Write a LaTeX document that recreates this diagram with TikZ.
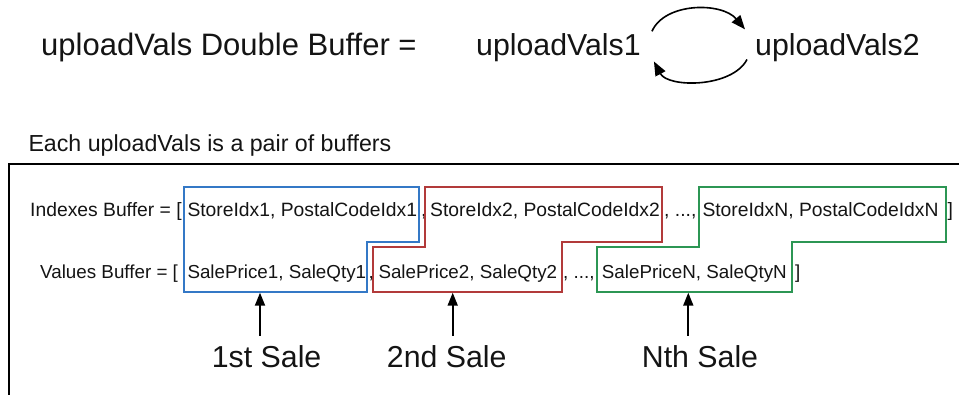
\documentclass[tikz,border=0pt]{standalone}
\usepackage{fontspec}
\setmainfont{Liberation Sans}
\usetikzlibrary{arrows.meta,calc}

\definecolor{saleblue}{RGB}{52,120,198}
\definecolor{salered}{RGB}{178,58,58}
\definecolor{salegreen}{RGB}{44,150,84}
\definecolor{ink}{RGB}{20,20,20}

\tikzset{
  titletext/.style={font=\fontsize{31}{37}\selectfont, inner sep=0pt, anchor=base west, text=ink},
  bigtext/.style={font=\fontsize{30.3}{36}\selectfont, inner sep=0pt, anchor=base west, text=ink},
  subtext/.style={font=\fontsize{23.2}{28}\selectfont, inner sep=0pt, anchor=base west, text=ink},
  rowtext/.style={font=\fontsize{19.3}{23}\selectfont, inner sep=0pt, anchor=base west, text=ink},
  valtext/.style={font=\fontsize{18.8}{23}\selectfont, inner sep=0pt, anchor=base west, text=ink},
  frame/.style={draw=black, line width=2pt},
  salebox/.style={line width=2pt, line join=miter},
  swap/.style={line width=1.6pt, -{Triangle[length=14pt,width=11pt]}},
  pointer/.style={line width=1.8pt, -{Triangle[length=13pt,width=10pt]}}
}

\begin{document}
\begin{tikzpicture}[x=1pt,y=-1pt]
\path[use as bounding box] (0,0) rectangle (959,395);

% double buffer header
\node[titletext] (title) at (41,56) {uploadVals Double Buffer =};
\node[bigtext] (v1) at (476,56) {uploadVals1};
\node[bigtext] (v2) at (755,56) {uploadVals2};

\draw[swap] ([shift={(11,-2.5)}]v1.north east)
  .. controls (665,2) and (722,2) .. ([shift={(-10,-4.5)}]v2.north west);
\draw[swap] ([shift={(-8,-3)}]v2.south west)
  .. controls (732,88) and (668,88) .. ([shift={(13,-1)}]v1.south east);

% caption and frame
\node[subtext] (caption) at (28.3,151.7) {Each uploadVals is a pair of buffers};
\draw[frame] (9,400) |- (965,164.3);

% indexes buffer row
\node[rowtext] (ilbl) at (30,216.7) {Indexes Buffer = [};
\node[rowtext] (i1) at (187.3,216.7) {StoreIdx1, PostalCodeIdx1};
\node[rowtext] (ic1) at (421,216.7) {,};
\node[rowtext] (i2) at (430,216.7) {StoreIdx2, PostalCodeIdx2};
\node[rowtext] (ic2) at (664,216.7) {, ...,};
\node[rowtext] (iN) at (702.3,216.7) {StoreIdxN, PostalCodeIdxN};
\node[rowtext] (iend) at (947.3,216.7) {]};

% values buffer row
\node[valtext] (vlbl) at (40,278.3) {Values Buffer = [};
\node[valtext] (s1) at (187.3,278.3) {SalePrice1, SaleQty1};
\node[valtext] (vc1) at (368.5,278.3) {,};
\node[valtext] (s2) at (378.3,278.3) {SalePrice2, SaleQty2};
\node[valtext] (vc2) at (563,278.3) {, ...,};
\node[valtext] (sN) at (601.7,278.3) {SalePriceN, SaleQtyN};
\node[valtext] (vend) at (795,278.3) {]};

% outlines grouping the entries of each sale
\draw[salebox, saleblue] (184.3,186.7) -- (419.3,186.7) -- (419.3,241.7)
  -- (366.7,241.7) -- (366.7,291.7) -- (184.3,291.7) -- cycle;
\draw[salebox, salered] (425,186.7) -- (662.3,186.7) -- (662.3,241.7)
  -- (561.7,241.7) -- (561.7,291.7) -- (373.3,291.7) -- (373.3,246.7)
  -- (425,246.7) -- cycle;
\draw[salebox, salegreen] (699.3,186.7) -- (945.7,186.7) -- (945.7,241.7)
  -- (791.7,241.7) -- (791.7,291.7) -- (596.7,291.7) -- (596.7,246.7)
  -- (699.3,246.7) -- cycle;

% sale labels with pointers
\node[bigtext] (l1) at (211.7,367.7) {1st Sale};
\node[bigtext] (l2) at (386.7,367.7) {2nd Sale};
\node[bigtext] (lN) at (641.7,367.7) {Nth Sale};

\coordinate (p1) at (260,335.7);
\coordinate (p2) at (452.7,335.7);
\coordinate (pN) at (688.3,335.7);
\draw[pointer] (p1) -- (260,292.7);
\draw[pointer] (p2) -- (452.7,292.7);
\draw[pointer] (pN) -- (688.3,292.7);
\end{tikzpicture}
\end{document}
